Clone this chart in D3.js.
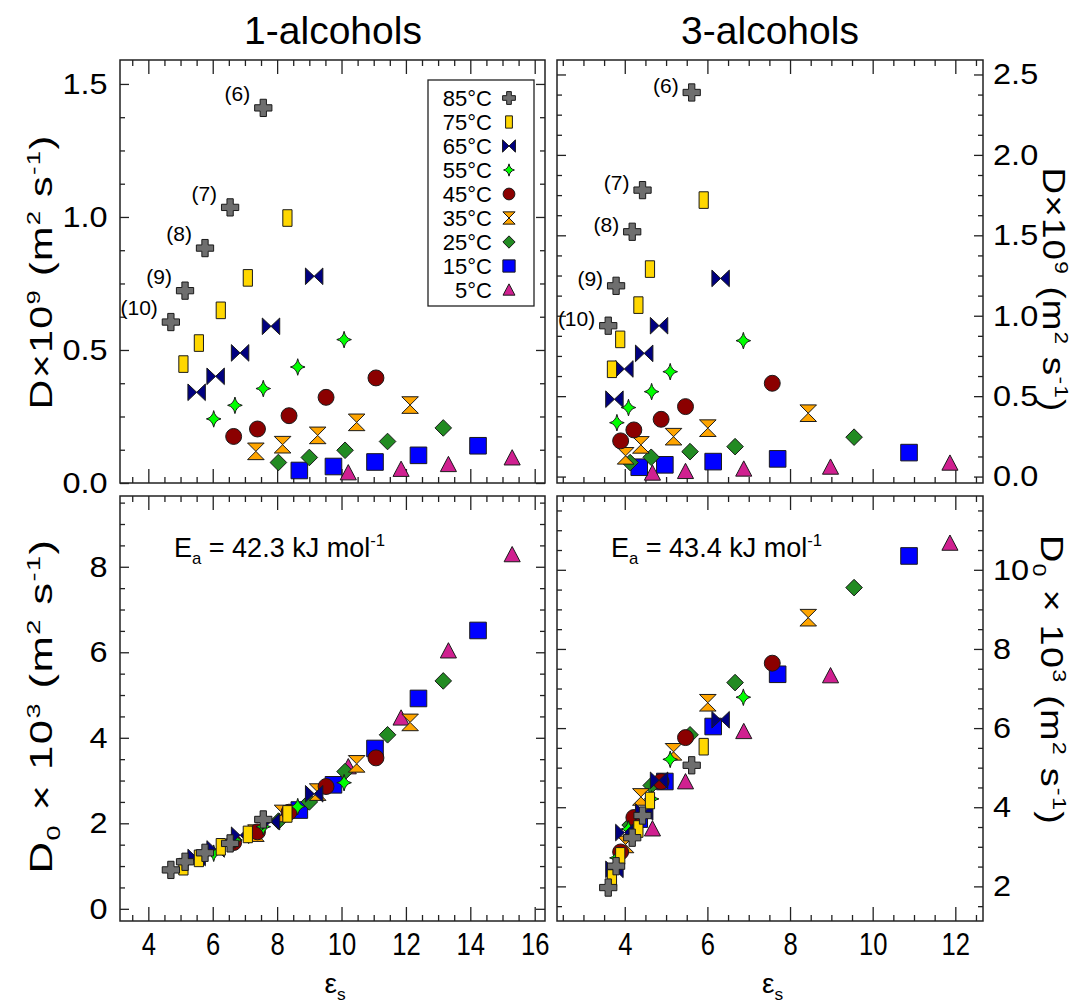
<!DOCTYPE html>
<html>
<head>
<meta charset="utf-8">
<script src="https://cdn.jsdelivr.net/npm/d3@7"></script>
<style>
  body { margin: 0; background: #fff; }
  text { font-family: "Liberation Sans", Arial, Helvetica, sans-serif; fill: #000; }
</style>
</head>
<body>
<script>
// series (one row per temperature, columns = (6),(7),(8),(9),(10))
var temps = ["85°C", "75°C", "65°C", "55°C", "45°C", "35°C", "25°C", "15°C", "5°C"];
var alcLabels = ["(6)", "(7)", "(8)", "(9)", "(10)"];

// 1-alcohols : dielectric constant
var eps1 = [
  [7.57, 6.54, 5.76, 5.14, 4.70],
  [8.32, 7.09, 6.25, 5.57, 5.09],
  [9.15, 7.81, 6.85, 6.09, 5.50],
  [10.08, 8.64, 7.57, 6.69, 6.03],
  [11.07, 9.52, 8.37, 7.39, 6.65],
  [12.13, 10.47, 9.26, 8.17, 7.34],
  [13.16, 11.43, 10.11, 9.00, 8.04],
  [14.24, 12.39, 11.04, 9.75, 8.69],
  [15.30, 13.32, 11.85, 10.21, null]
];
// 1-alcohols : D x 10^9
var dif1 = [
  [1.410, 1.036, 0.883, 0.723, 0.605],
  [0.996, 0.771, 0.649, 0.526, 0.447],
  [0.777, 0.589, 0.489, 0.401, 0.341],
  [0.539, 0.436, 0.355, 0.292, 0.241],
  [0.395, 0.322, 0.253, 0.203, 0.175],
  [0.293, 0.228, 0.179, 0.144, 0.119],
  [0.207, 0.156, 0.123, 0.096, 0.077],
  [0.140, 0.104, 0.079, 0.062, 0.047],
  [0.094, 0.069, 0.051, 0.038, null]
];
// 1-alcohols : D0 x 10^3
var pre1 = [
  [2.09, 1.53, 1.31, 1.10, 0.91],
  [2.22, 1.74, 1.45, 1.18, 0.985],
  [2.69, 2.04, 1.72, 1.40, 1.20],
  [2.95, 2.39, 1.92, 1.61, 1.30],
  [3.53, 2.86, 2.26, 1.80, 1.55],
  [4.36, 3.39, 2.73, 2.23, 1.77],
  [5.33, 4.07, 3.21, 2.50, 2.05],
  [6.51, 4.92, 3.75, 2.90, 2.31],
  [8.28, 6.03, 4.46, 3.32, null]
];

// 3-alcohols : dielectric constant
var eps3 = [
  [5.62, 4.43, 4.18, 3.79, 3.60],
  [5.91, 4.61, 4.33, 3.89, 3.69],
  [6.32, 4.83, 4.47, 3.99, 3.75],
  [6.87, 5.10, 4.65, 4.09, 3.81],
  [7.57, 5.47, 4.88, 4.22, 3.90],
  [8.44, 6.01, 5.18, 4.39, 4.02],
  [9.55, 6.67, 5.58, 4.64, 4.13],
  [10.88, 7.70, 6.14, 4.97, 4.35],
  [11.87, 8.98, 6.88, 5.47, 4.67]
];
// 3-alcohols : D x 10^9
var dif3 = [
  [2.388, 1.781, 1.522, 1.186, 0.938],
  [1.719, 1.290, 1.066, 0.853, 0.667],
  [1.232, 0.938, 0.766, 0.669, 0.481],
  [0.845, 0.652, 0.528, 0.429, 0.335],
  [0.580, 0.435, 0.356, 0.290, 0.222],
  [0.394, 0.301, 0.248, 0.197, 0.129],
  [0.245, 0.186, 0.155, 0.120, 0.087],
  [0.149, 0.110, 0.093, 0.073, 0.058],
  [0.083, 0.058, 0.046, 0.031, 0.021]
];
// 3-alcohols : D0 x 10^3
var pre3 = [
  [5.06, 3.79, 3.23, 2.51, 1.97],
  [5.53, 4.17, 3.45, 2.77, 2.21],
  [6.21, 4.68, 3.88, 3.36, 2.43],
  [6.78, 5.21, 4.21, 3.45, 2.72],
  [7.64, 5.76, 4.65, 3.74, 2.87],
  [8.79, 6.64, 5.40, 4.26, 3.06],
  [9.55, 7.15, 5.83, 4.55, 3.55],
  [10.35, 7.36, 6.04, 4.65, 3.70],
  [10.67, 7.32, 5.91, 4.64, 3.45]
];

// tick labels
var xTicks1 = [4, 6, 8, 10, 12, 14, 16];
var xTicks3 = [4, 6, 8, 10, 12];
var yTicksTL = [0, 0.5, 1.0, 1.5];
var yTicksTR = [0, 0.5, 1.0, 1.5, 2.0, 2.5];
var yTicksBL = [0, 2, 4, 6, 8];
var yTicksBR = [2, 4, 6, 8, 10];
var eaText = ["42.3", "43.4"];

// symbol styles (same order as temps)
var shapes = ["plus", "bar", "bowtie", "star", "circle", "hourglass", "diamond", "square", "triangle"];
var colors = ["#6e6e6e", "#ffd700", "#000080", "#00ff00", "#8b0000", "#ffa500", "#228b22", "#0000ff", "#d02090"];

var svg = d3.select("body").append("svg")
    .attr("width", 1087)
    .attr("height", 1004);

// シンボルのパス
function symbolPath(kind, k) {
  var r = 8.3 * k, w, p;
  function poly(pts) { return "M" + pts.map(function(q) { return q[0].toFixed(2) + "," + q[1].toFixed(2); }).join("L") + "Z"; }
  switch (kind) {
    case "plus":
      w = r * 0.38;
      r = r * 1.04;
      return poly([[-w,-r],[w,-r],[w,-w],[r,-w],[r,w],[w,w],[w,r],[-w,r],[-w,w],[-r,w],[-r,-w],[-w,-w]]);
    case "bar":
      return poly([[-4.6*k,-r],[4.6*k,-r],[4.6*k,r],[-4.6*k,r]]);
    case "bowtie":
      return poly([[-r*1.05,-r],[0,0],[-r*1.05,r]]) + poly([[r*1.05,-r],[0,0],[r*1.05,r]]);
    case "star":
      p = 0.16 * r;
      return "M0," + (-r) + "Q" + p + "," + (-p) + " " + (r*0.88) + ",0" +
             "Q" + p + "," + p + " 0," + r +
             "Q" + (-p) + "," + p + " " + (-r*0.88) + ",0" +
             "Q" + (-p) + "," + (-p) + " 0," + (-r) + "Z";
    case "circle":
      w = r * 0.96;
      return "M" + w + ",0A" + w + "," + w + " 0 1 1 " + (-w) + ",0A" + w + "," + w + " 0 1 1 " + w + ",0Z";
    case "hourglass":
      return poly([[-r,-r],[r,-r],[0,0]]) + poly([[-r,r],[r,r],[0,0]]);
    case "diamond":
      return poly([[0,-r],[r,0],[0,r],[-r,0]]);
    case "square":
      return poly([[-r,-r],[r,-r],[r,r],[-r,r]]);
    case "triangle":
      return poly([[0,-r*1.0],[r*0.97,r*0.84],[-r*0.97,r*0.84]]);
  }
}

// 上付き・下付き付きテキスト
function rich(g, parts, size) {
  var t = g.append("text").style("font-size", size + "px");
  var shift = 0;
  parts.forEach(function(p) {
    var target = p[1] == "sup" ? -0.4 * size : (p[1] == "sub" ? 0.26 * size : 0);
    t.append("tspan")
      .attr("dy", target - shift)
      .style("font-size", (p[1] == "n" ? size : size * 0.62) + "px")
      .text(p[0]);
    shift = target;
  });
  return t;
}

// 回転した軸タイトル（長さを合わせる）
function axisTitle(parts, cx, cy, angle, span) {
  var t = rich(svg, parts, 31).attr("text-anchor", "middle").style("letter-spacing", "1px");
  var len = t.node().getComputedTextLength();
  var k = len > 0 ? span / len : 1;
  t.attr("transform", "translate(" + cx + "," + cy + ") rotate(" + angle + ") scale(" + k + ",1)");
}

var panels = [
  {x0: 120, x1: 545, y0: 60,  y1: 483, xd: [3.12, 16.32], yd: [0, 1.59],       xt: xTicks1, yt: yTicksTL, yMinor: 0.125, fmt: ".1f", side: "left",  xlab: false, xs: eps1, ys: dif1, lab: -14},
  {x0: 557, x1: 983, y0: 60,  y1: 483, xd: [2.36, 12.67], yd: [-0.04, 2.59],   xt: xTicks3, yt: yTicksTR, yMinor: 0.125, fmt: ".1f", side: "right", xlab: false, xs: eps3, ys: dif3, lab: -7},
  {x0: 120, x1: 545, y0: 496, y1: 921, xd: [3.12, 16.32], yd: [-0.285, 9.655], xt: xTicks1, yt: yTicksBL, yMinor: 0.5,   fmt: "d",   side: "left",  xlab: true,  xs: eps1, ys: pre1, ea: eaText[0]},
  {x0: 557, x1: 983, y0: 496, y1: 921, xd: [2.36, 12.67], yd: [1.125, 11.865], xt: xTicks3, yt: yTicksBR, yMinor: 0.5,   fmt: "d",   side: "right", xlab: true,  xs: eps3, ys: pre3, ea: eaText[1]}
];

panels.forEach(function(P) {
  var x = d3.scaleLinear().domain(P.xd).range([P.x0, P.x1]);
  var y = d3.scaleLinear().domain(P.yd).range([P.y1, P.y0]);
  var g = svg.append("g");

  var xMin = d3.range(Math.ceil(P.xd[0] * 2) / 2, P.xd[1], 0.5).filter(function(v) { return P.xt.indexOf(v) < 0; });
  var yMin = d3.range(Math.ceil(P.yd[0] / P.yMinor) * P.yMinor, P.yd[1], P.yMinor)
      .filter(function(v) { return !P.yt.some(function(t) { return Math.abs(t - v) < 1e-6; }); });
  var none = function() { return ""; };

  function addAxis(axis, tr) {
    var a = g.append("g").attr("transform", tr).call(axis);
    a.select(".domain").remove();
    a.selectAll(".tick line").attr("stroke", "#222").attr("stroke-width", 1.3);
    return a;
  }

  // X axis (bottom / top)
  var xb = addAxis(d3.axisBottom(x).tickValues(P.xt).tickSizeInner(-14).tickSizeOuter(0).tickPadding(11)
      .tickFormat(P.xlab ? d3.format("d") : none), "translate(0," + P.y1 + ")");
  xb.selectAll("text").style("font-size", "32px").attr("transform", "scale(0.8,1)");
  addAxis(d3.axisBottom(x).tickValues(xMin).tickSizeInner(-6).tickSizeOuter(0).tickFormat(none), "translate(0," + P.y1 + ")");
  addAxis(d3.axisTop(x).tickValues(P.xt).tickSizeInner(-14).tickSizeOuter(0).tickFormat(none), "translate(0," + P.y0 + ")");
  addAxis(d3.axisTop(x).tickValues(xMin).tickSizeInner(-6).tickSizeOuter(0).tickFormat(none), "translate(0," + P.y0 + ")");

  // Y axis (left / right)
  var yl = addAxis(d3.axisLeft(y).tickValues(P.yt).tickSizeInner(-9).tickSizeOuter(0).tickPadding(11)
      .tickFormat(P.side == "left" ? d3.format(P.fmt) : none), "translate(" + P.x0 + ",0)");
  var yr = addAxis(d3.axisRight(y).tickValues(P.yt).tickSizeInner(-9).tickSizeOuter(0).tickPadding(9)
      .tickFormat(P.side == "right" ? d3.format(P.fmt) : none), "translate(" + P.x1 + ",0)");
  yl.selectAll("text").style("font-size", "29px").attr("transform", "scale(1.12,1)");
  yr.selectAll("text").style("font-size", "29px").attr("transform", "scale(1.12,1)");
  addAxis(d3.axisLeft(y).tickValues(yMin).tickSizeInner(-5).tickSizeOuter(0).tickFormat(none), "translate(" + P.x0 + ",0)");
  addAxis(d3.axisRight(y).tickValues(yMin).tickSizeInner(-5).tickSizeOuter(0).tickFormat(none), "translate(" + P.x1 + ",0)");

  // frame
  g.append("rect")
    .attr("x", P.x0).attr("y", P.y0)
    .attr("width", P.x1 - P.x0).attr("height", P.y1 - P.y0)
    .attr("fill", "none").attr("stroke", "#222").attr("stroke-width", 1.5);

  // points: 5°C first, 85°C on top
  for (var s = temps.length - 1; s >= 0; s--) {
    P.xs[s].forEach(function(ev, j) {
      var v = P.ys[s][j];
      if (ev == null || v == null) return;
      g.append("path")
        .attr("d", symbolPath(shapes[s], 1))
        .attr("transform", "translate(" + x(ev) + "," + y(v) + ")")
        .attr("fill", colors[s])
        .attr("stroke", "#1a1a1a")
        .attr("stroke-width", 1);
    });
  }

  // alcohol labels next to the 85°C points (top row)
  if (P.lab) {
    alcLabels.forEach(function(lb, j) {
      g.append("text")
        .attr("x", x(P.xs[0][j]) - 13)
        .attr("y", y(P.ys[0][j]) + P.lab)
        .attr("dy", "0.35em")
        .attr("text-anchor", "end")
        .style("font-size", "21px")
        .text(lb);
    });
  }

  // activation energy (bottom row)
  if (P.ea) {
    rich(g, [["E", "n"], ["a", "sub"], [" = " + P.ea + " kJ mol", "n"], ["-1", "sup"]], 27)
      .attr("x", P.x0 + 54)
      .attr("y", 557);
  }

  // x title
  if (P.xlab) {
    rich(g, [["ε", "n"], ["s", "sub"]], 28)
      .attr("x", (P.x0 + P.x1) / 2 - 8)
      .attr("y", 993);
  }
});

// titles
svg.append("text").attr("x", 333).attr("y", 44).attr("text-anchor", "middle").style("font-size", "39px").text("1-alcohols");
svg.append("text").attr("x", 770).attr("y", 44).attr("text-anchor", "middle").style("font-size", "39px").text("3-alcohols");

// y titles
var topTitle = [["D×10", "n"], ["9", "sup"], [" (m", "n"], ["2", "sup"], [" s", "n"], ["-1", "sup"], [")", "n"]];
var botTitle = [["D", "n"], ["0", "sub"], [" × 10", "n"], ["3", "sup"], [" (m", "n"], ["2", "sup"], [" s", "n"], ["-1", "sup"], [")", "n"]];
axisTitle(topTitle, 52, 272, -90, 275);
axisTitle(topTitle, 1043, 290, 90, 245);
axisTitle(botTitle, 52, 706, -90, 335);
axisTitle(botTitle, 1041, 680, 90, 290);

// legend
var leg = svg.append("g");
leg.append("rect")
  .attr("x", 428).attr("y", 80).attr("width", 106).attr("height", 226)
  .attr("fill", "#fff").attr("stroke", "#222").attr("stroke-width", 1.3);
temps.forEach(function(t, i) {
  var yy = 98 + i * 24;
  leg.append("text")
    .attr("x", 492).attr("y", yy).attr("dy", "0.35em")
    .attr("text-anchor", "end")
    .style("font-size", "22px")
    .text(t);
  leg.append("path")
    .attr("d", symbolPath(shapes[i], 0.74))
    .attr("transform", "translate(509," + yy + ")")
    .attr("fill", colors[i])
    .attr("stroke", "#1a1a1a")
    .attr("stroke-width", 1);
});
</script>
</body>
</html>
